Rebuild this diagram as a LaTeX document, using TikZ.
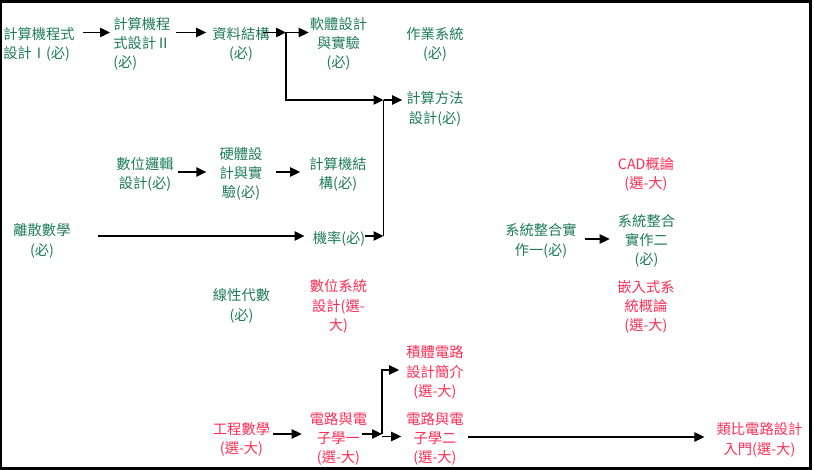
\documentclass[tikz,border=0pt]{standalone}
\usepackage{fontspec}
\setmainfont{Noto Sans CJK TC}
\usetikzlibrary{arrows.meta,calc}
\definecolor{req}{HTML}{1E7B5A}
\definecolor{ele}{HTML}{FF2D55}
\begin{document}
\begin{tikzpicture}[x=0.75pt,y=-0.75pt,
  txt/.style={inner sep=0pt,align=center,yshift=-1.5pt,font=\fontsize{10.7}{14.5}\selectfont},
  reqc/.style={txt,text=req},
  elec/.style={txt,text=ele},
  arr/.style={line width=1.05pt,-{Triangle[length=7.5pt,width=7pt]}},
  ln/.style={line width=1.05pt}]
\useasboundingbox (0,0) rectangle (814,470);
\draw[line width=2.25pt] (0.5,1.5) rectangle (810.5,468);
% nodes
\node[reqc,anchor=west,align=left] (n1) at (3,42.5) {計算機程式\\設計Ⅰ(必)};
\node[reqc,anchor=west,align=left] (n2) at (113,42) {計算機程\\式設計Ⅱ\\(必)};
\node[reqc] (n3) at (241,42.5) {資料結構\\(必)};
\node[reqc] (n4) at (338.5,42) {軟體設計\\與實驗\\(必)};
\node[reqc] (n5) at (435,42.5) {作業系統\\(必)};
\node[reqc] (n6) at (435,107) {計算方法\\設計(必)};
\node[reqc] (n7) at (145,172.5) {數位邏輯\\設計(必)};
\node[reqc] (n8) at (241,172) {硬體設\\計與實\\驗(必)};
\node[reqc] (n9) at (338,172.5) {計算機結\\構(必)};
\node[reqc] (n10) at (42,239) {離散數學\\(必)};
\node[reqc] (n11) at (339,237) {機率(必)};
\node[reqc] (n12) at (541,239) {系統整合實\\作一(必)};
\node[elec] (n13) at (646,172.5) {CAD概論\\(選-大)};
\node[reqc] (n14) at (646.5,239) {系統整合\\實作二\\(必)};
\node[elec] (n15) at (646,305) {嵌入式系\\統概論\\(選-大)};
\node[reqc] (n16) at (241.5,304) {線性代數\\(必)};
\node[elec] (n17) at (338.5,304.5) {數位系統\\設計(選-\\大)};
\node[elec] (n18) at (435,370.5) {積體電路\\設計簡介\\(選-大)};
\node[elec] (n19) at (241.5,437.5) {工程數學\\(選-大)};
\node[elec] (n20) at (338.5,437) {電路與電\\子學一\\(選-大)};
\node[elec] (n21) at (435,437) {電路與電\\子學二\\(選-大)};
\node[elec] (n22) at (759.5,438) {類比電路設計\\入門(選-大)};
% junctions
\coordinate (j1) at (286,32.5);
\coordinate (j2) at (286,100);
\coordinate (j3) at (383.5,100);
\coordinate (j4) at (383.5,236);
\coordinate (j5) at (382,434);
\coordinate (j6) at (382,370);
\coordinate (j7) at (382,436.5);
% connectors
\draw[arr] ($(n1.east|-j1)+(8,0)$) -- ($(n2.west|-j1)+(-3,0)$);
\draw[arr] ($(n2.east|-j1)+(5,0)$) -- ($(n3.west|-j1)+(-6,0)$);
\draw[arr] ($(n3.east|-j1)+(-7,0)$) -- (j1);
\draw[arr] (j1) -- ($(n4.west|-j1)+(-1,0)$);
\draw[arr] (j1) -- (j2) -- (j3);
\draw[arr] (n11.east|-j4) -- (j4);
\draw[ln] (j4) -- (j3);
\draw[arr] (j3) -- ($(n6.west|-j3)+(-4,0)$);
\draw[arr] ($(n7.east|-0,172)+(4,0)$) -- ($(n8.west|-0,172)+(-13,0)$);
\draw[arr] ($(n8.east|-0,172)+(13.5,0)$) -- ($(n9.west|-0,172)+(-9,0)$);
\draw[arr] ($(n10.east|-j4)+(27,0)$) -- ($(n11.west|-j4)+(-8,0)$);
\draw[arr] ($(n12.east|-0,239)+(8,0)$) -- ($(n14.west|-0,239)+(-8,0)$);
\draw[arr] ($(n19.east|-j5)+(3,0)$) -- ($(n20.west|-j5)+(-8,0)$);
\draw[arr] ($(n20.east|-j5)+(-5,0)$) -- (j5);
\draw[arr] (j5) -- (j6) -- ($(n18.west|-j6)+(-7,0)$);
\draw[arr] (j7) -- ($(n21.west|-j7)+(-5,0)$);
\draw[arr] ($(n21.east|-0,437)+(4,0)$) -- ($(n22.west|-0,437)+(-12,0)$);
\end{tikzpicture}
\end{document}
